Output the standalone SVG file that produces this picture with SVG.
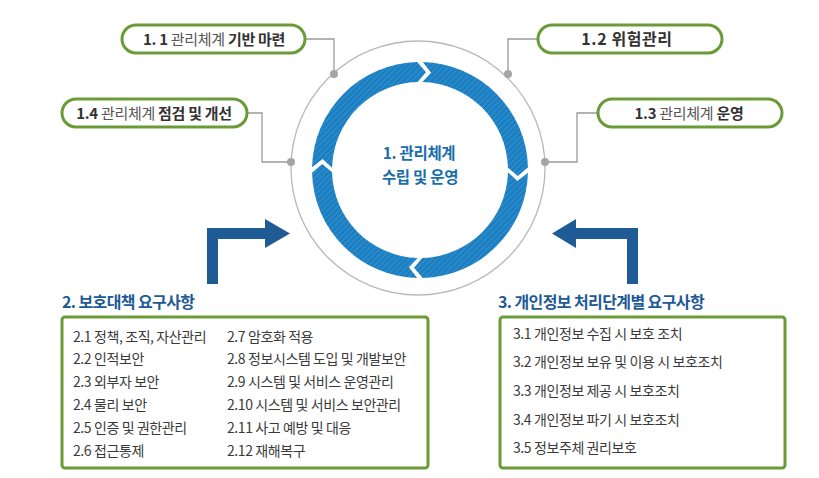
<svg xmlns="http://www.w3.org/2000/svg" width="819" height="478" viewBox="0 0 819 478">
<defs>
<pattern id="stripe" patternUnits="userSpaceOnUse" width="4" height="4" patternTransform="rotate(45)">
<rect width="4" height="4" fill="#1c7fc2"/>
<line x1="0" y1="0" x2="0" y2="4" stroke="#4a9fd8" stroke-width="1"/>
</pattern>
</defs>
<style>
text{font-family:"Noto Sans CJK KR","Noto Sans",sans-serif;}
.pill{fill:#fff;stroke:#6b9b37;stroke-width:3;}
.lbl{font-size:15px;fill:#333;font-weight:bold;text-anchor:middle;letter-spacing:-0.3px;}
.rg{font-weight:normal;fill:#555;}
.con{fill:none;stroke:#9a9a9a;stroke-width:1.3;}
.dot{fill:#a5a5a5;}
.ring{fill:url(#stripe);}
.arrow{fill:#1f5b95;}
.head{font-size:16px;font-weight:bold;fill:#1e5a96;letter-spacing:-0.6px;}
.box{fill:#fff;stroke:#6b9b37;stroke-width:3;}
.item{font-size:14px;fill:#3a3a3a;letter-spacing:-0.4px;}
.ctr{font-size:15.5px;font-weight:bold;fill:#1a6dab;text-anchor:middle;letter-spacing:-0.3px;}
</style>
<rect width="819" height="478" fill="#fff"/>

<g id="connectors">
<circle cx="418" cy="168" r="127" fill="none" stroke="#b8b8b8" stroke-width="1.3"/>
<polyline class="con" points="305,39 334,39 334,74"/>
<polyline class="con" points="538,39 508,39 508,74"/>
<polyline class="con" points="247,113 262,113 262,162 291,162"/>
<polyline class="con" points="598,113 577,113 577,162 545,162"/>
<circle class="dot" cx="334" cy="74" r="4"/>
<circle class="dot" cx="508" cy="74" r="4"/>
<circle class="dot" cx="291" cy="162" r="4"/>
<circle class="dot" cx="545" cy="162" r="4"/>
<polygon class="arrow" points="207,284 207,228 265,228 265,219 290,233.5 265,248 265,239 218,239 218,284"/>
<polygon class="arrow" points="638,284 638,228 576,228 576,219 552,233.5 576,248 576,239 627,239 627,284"/>
</g>

<g id="cycle">
<path class="ring" d="M422.83,62.04 A108,108 0 0 1 527.96,167.17 L517.82,175.98 L507.97,167.70 A88,88 0 0 0 422.30,82.03 L431.09,72.63 Z"/>
<path class="ring" d="M527.96,172.83 A108,108 0 0 1 422.83,277.96 L414.02,267.82 L422.30,257.97 A88,88 0 0 0 507.97,172.30 L517.37,181.09 Z"/>
<path class="ring" d="M417.17,277.96 A108,108 0 0 1 312.04,172.83 L322.18,164.02 L332.03,172.30 A88,88 0 0 0 417.70,257.97 L408.91,267.37 Z"/>
<path class="ring" d="M312.04,167.17 A108,108 0 0 1 417.17,62.04 L425.98,72.18 L417.70,82.03 A88,88 0 0 0 332.03,167.70 L322.63,158.91 Z"/>
<text class="ctr" x="419" y="159">1. 관리체계</text>
<text class="ctr" x="420" y="183">수립 및 운영</text>
</g>

<g id="n11">
<rect class="pill" x="122" y="25" width="183" height="28" rx="14"/>
<text class="lbl" x="214" y="44.5">1. 1 <tspan class="rg">관리체계</tspan> 기반 마련</text>
</g>
<g id="n12">
<rect class="pill" x="538" y="25" width="184" height="28" rx="14"/>
<text class="lbl" x="627" y="44.5" style="font-size:16px;letter-spacing:0.6px">1.2 위험관리</text>
</g>
<g id="n14">
<rect class="pill" x="62" y="99" width="185" height="28" rx="14"/>
<text class="lbl" x="154" y="118.5">1.4 <tspan class="rg">관리체계</tspan> 점검 및 개선</text>
</g>
<g id="n13">
<rect class="pill" x="598" y="99" width="184" height="28" rx="14"/>
<text class="lbl" x="689" y="118.5">1.3 <tspan class="rg">관리체계</tspan> 운영</text>
</g>

<g id="n2">
<text class="head" x="62" y="308">2. 보호대책 요구사항</text>
<rect class="box" x="62" y="317" width="366" height="151" rx="3"/>
<text class="item" x="73" y="342">2.1 정책, 조직, 자산관리</text>
<text class="item" x="73" y="364">2.2 인적보안</text>
<text class="item" x="73" y="387">2.3 외부자 보안</text>
<text class="item" x="73" y="410">2.4 물리 보안</text>
<text class="item" x="73" y="433">2.5 인증 및 권한관리</text>
<text class="item" x="73" y="456">2.6 접근통제</text>
<text class="item" x="227" y="342">2.7 암호화 적용</text>
<text class="item" x="227" y="364">2.8 정보시스템 도입 및 개발보안</text>
<text class="item" x="227" y="387">2.9 시스템 및 서비스 운영관리</text>
<text class="item" x="227" y="410">2.10 시스템 및 서비스 보안관리</text>
<text class="item" x="227" y="433">2.11 사고 예방 및 대응</text>
<text class="item" x="227" y="456">2.12 재해복구</text>
</g>

<g id="n3">
<text class="head" x="498" y="308">3. 개인정보 처리단계별 요구사항</text>
<rect class="box" x="500" y="317" width="285" height="151" rx="3"/>
<text class="item" x="513" y="339">3.1 개인정보 수집 시 보호 조치</text>
<text class="item" x="513" y="367">3.2 개인정보 보유 및 이용 시 보호조치</text>
<text class="item" x="513" y="396">3.3 개인정보 제공 시 보호조치</text>
<text class="item" x="513" y="425">3.4 개인정보 파기 시 보호조치</text>
<text class="item" x="513" y="453">3.5 정보주체 권리보호</text>
</g>
</svg>
